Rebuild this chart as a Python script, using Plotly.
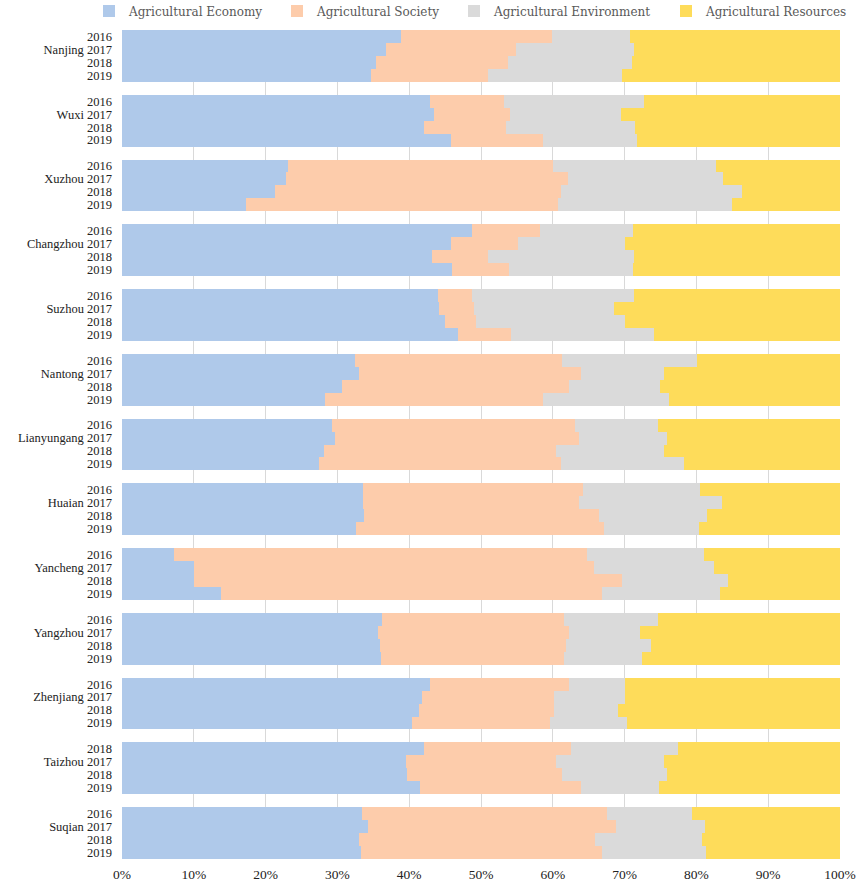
import plotly.graph_objects as go

# données (parts en %)
cities = ["Nanjing", "Wuxi", "Xuzhou", "Changzhou", "Suzhou", "Nantong", "Lianyungang",
          "Huaian", "Yancheng", "Yangzhou", "Zhenjiang", "Taizhou", "Suqian"]
years = [["2016", "2017", "2018", "2019"]] * 11 + [["2018", "2017", "2018", "2019"]] + [["2016", "2017", "2018", "2019"]]

# bornes cumulées lues (fin du bleu, fin du saumon, fin du gris)
economy_end = [38.9, 36.7, 35.4, 34.7,  42.9, 43.5, 42.0, 45.8,  23.1, 22.8, 21.3, 17.3,
               48.7, 45.8, 43.2, 46.0,  44.0, 44.2, 45.0, 46.8,  32.4, 33.0, 30.6, 28.3,
               29.3, 29.6, 28.2, 27.5,  33.5, 33.6, 33.7, 32.6,  7.2, 10.0, 10.0, 13.8,
               36.2, 35.6, 35.9, 36.1,  42.9, 41.8, 41.4, 40.4,  42.0, 39.6, 39.7, 41.5,
               33.4, 34.2, 33.0, 33.3]
society_end = [59.9, 54.9, 53.8, 51.0,  53.2, 54.1, 53.5, 58.7,  60.0, 62.1, 61.2, 60.7,
               58.2, 55.2, 51.0, 53.9,  48.7, 49.0, 49.3, 54.2,  61.3, 63.9, 62.3, 58.7,
               63.1, 63.7, 60.4, 61.2,  64.2, 63.6, 66.4, 67.1,  64.8, 65.8, 69.6, 66.8,
               61.6, 62.2, 61.8, 61.6,  62.3, 60.2, 60.1, 59.6,  62.6, 60.5, 61.3, 63.9,
               67.5, 68.8, 65.9, 66.8]
environment_end = [70.7, 71.3, 71.0, 69.7,  72.7, 69.5, 71.5, 71.7,  82.7, 83.7, 86.3, 84.9,
                   71.1, 70.0, 71.3, 71.1,  71.3, 68.5, 70.0, 74.1,  80.1, 75.5, 74.9, 76.2,
                   74.6, 75.9, 75.5, 78.3,  80.5, 83.6, 81.5, 80.4,  81.1, 82.4, 84.4, 83.3,
                   74.6, 72.1, 73.7, 72.4,  70.0, 70.0, 69.1, 70.4,  77.4, 75.5, 75.9, 74.8,
                   79.4, 81.2, 80.8, 81.4]

economy = economy_end
society = [s - e for s, e in zip(society_end, economy_end)]
environment = [v - s for v, s in zip(environment_end, society_end)]
resources = [100 - v for v in environment_end]

series = [
    ("Agricultural Economy", economy, "#AFC9EA"),
    ("Agricultural Society", society, "#FDCCAB"),
    ("Agricultural Environment", environment, "#DADADA"),
    ("Agricultural Resources", resources, "#FEDC5A"),
]
legend_x = [89, 277, 454, 666]  # position (px) de chaque entrée de légende

# positions : 4 barres par ville + une ligne vide entre les villes
ypos = []
ticktext = []
for g, city in enumerate(cities):
    for r in range(4):
        ypos.append(g * 5 + r)
        if r == 1:
            ticktext.append(city + " " + years[g][r])
        else:
            ticktext.append(years[g][r])

fig = go.Figure()
legends = {}
for i, (name, vals, col) in enumerate(series):
    key = "legend" if i == 0 else "legend" + str(i + 1)
    fig.add_trace(go.Bar(y=ypos, x=vals, name=name, orientation="h", legend=key,
                         marker=dict(color=col, line=dict(width=0))))
    legends[key] = dict(orientation="h", xref="container", yref="container",
                        x=legend_x[i] / 858, xanchor="left", y=1 - 11 / 880, yanchor="middle",
                        font=dict(family="DejaVu Serif", size=12, color="#595959"),
                        itemwidth=30, bgcolor="rgba(0,0,0,0)", borderwidth=0)

fig.update_layout(
    barmode="stack", bargap=0,
    width=858, height=880,
    margin=dict(l=122, r=18, t=30, b=21, autoexpand=False),
    plot_bgcolor="white", paper_bgcolor="white",
    font=dict(family="Liberation Serif", size=12.5, color="#222222"),
    showlegend=True,
    xaxis=dict(range=[0, 100], tickvals=[0, 10, 20, 30, 40, 50, 60, 70, 80, 90, 100],
               ticktext=["0%", "10%", "20%", "30%", "40%", "50%", "60%", "70%", "80%", "90%", "100%"],
               showgrid=True, gridcolor="#D9D9D9", gridwidth=1, zeroline=False,
               showline=False, ticks="", tickfont=dict(size=13.5), automargin=False,
               ticklabelstandoff=5),
    yaxis=dict(range=[63.5, -0.5], tickvals=ypos, ticktext=ticktext,
               showgrid=False, zeroline=False, showline=False, ticks="",
               tickfont=dict(size=12.5), automargin=False, ticklabelstandoff=9),
    **legends
)

# page sans marge pour que la figure occupe toute la fenêtre
fig.write_html("out.html", config={"displayModeBar": False},
               post_script="document.body.style.margin='0';")
